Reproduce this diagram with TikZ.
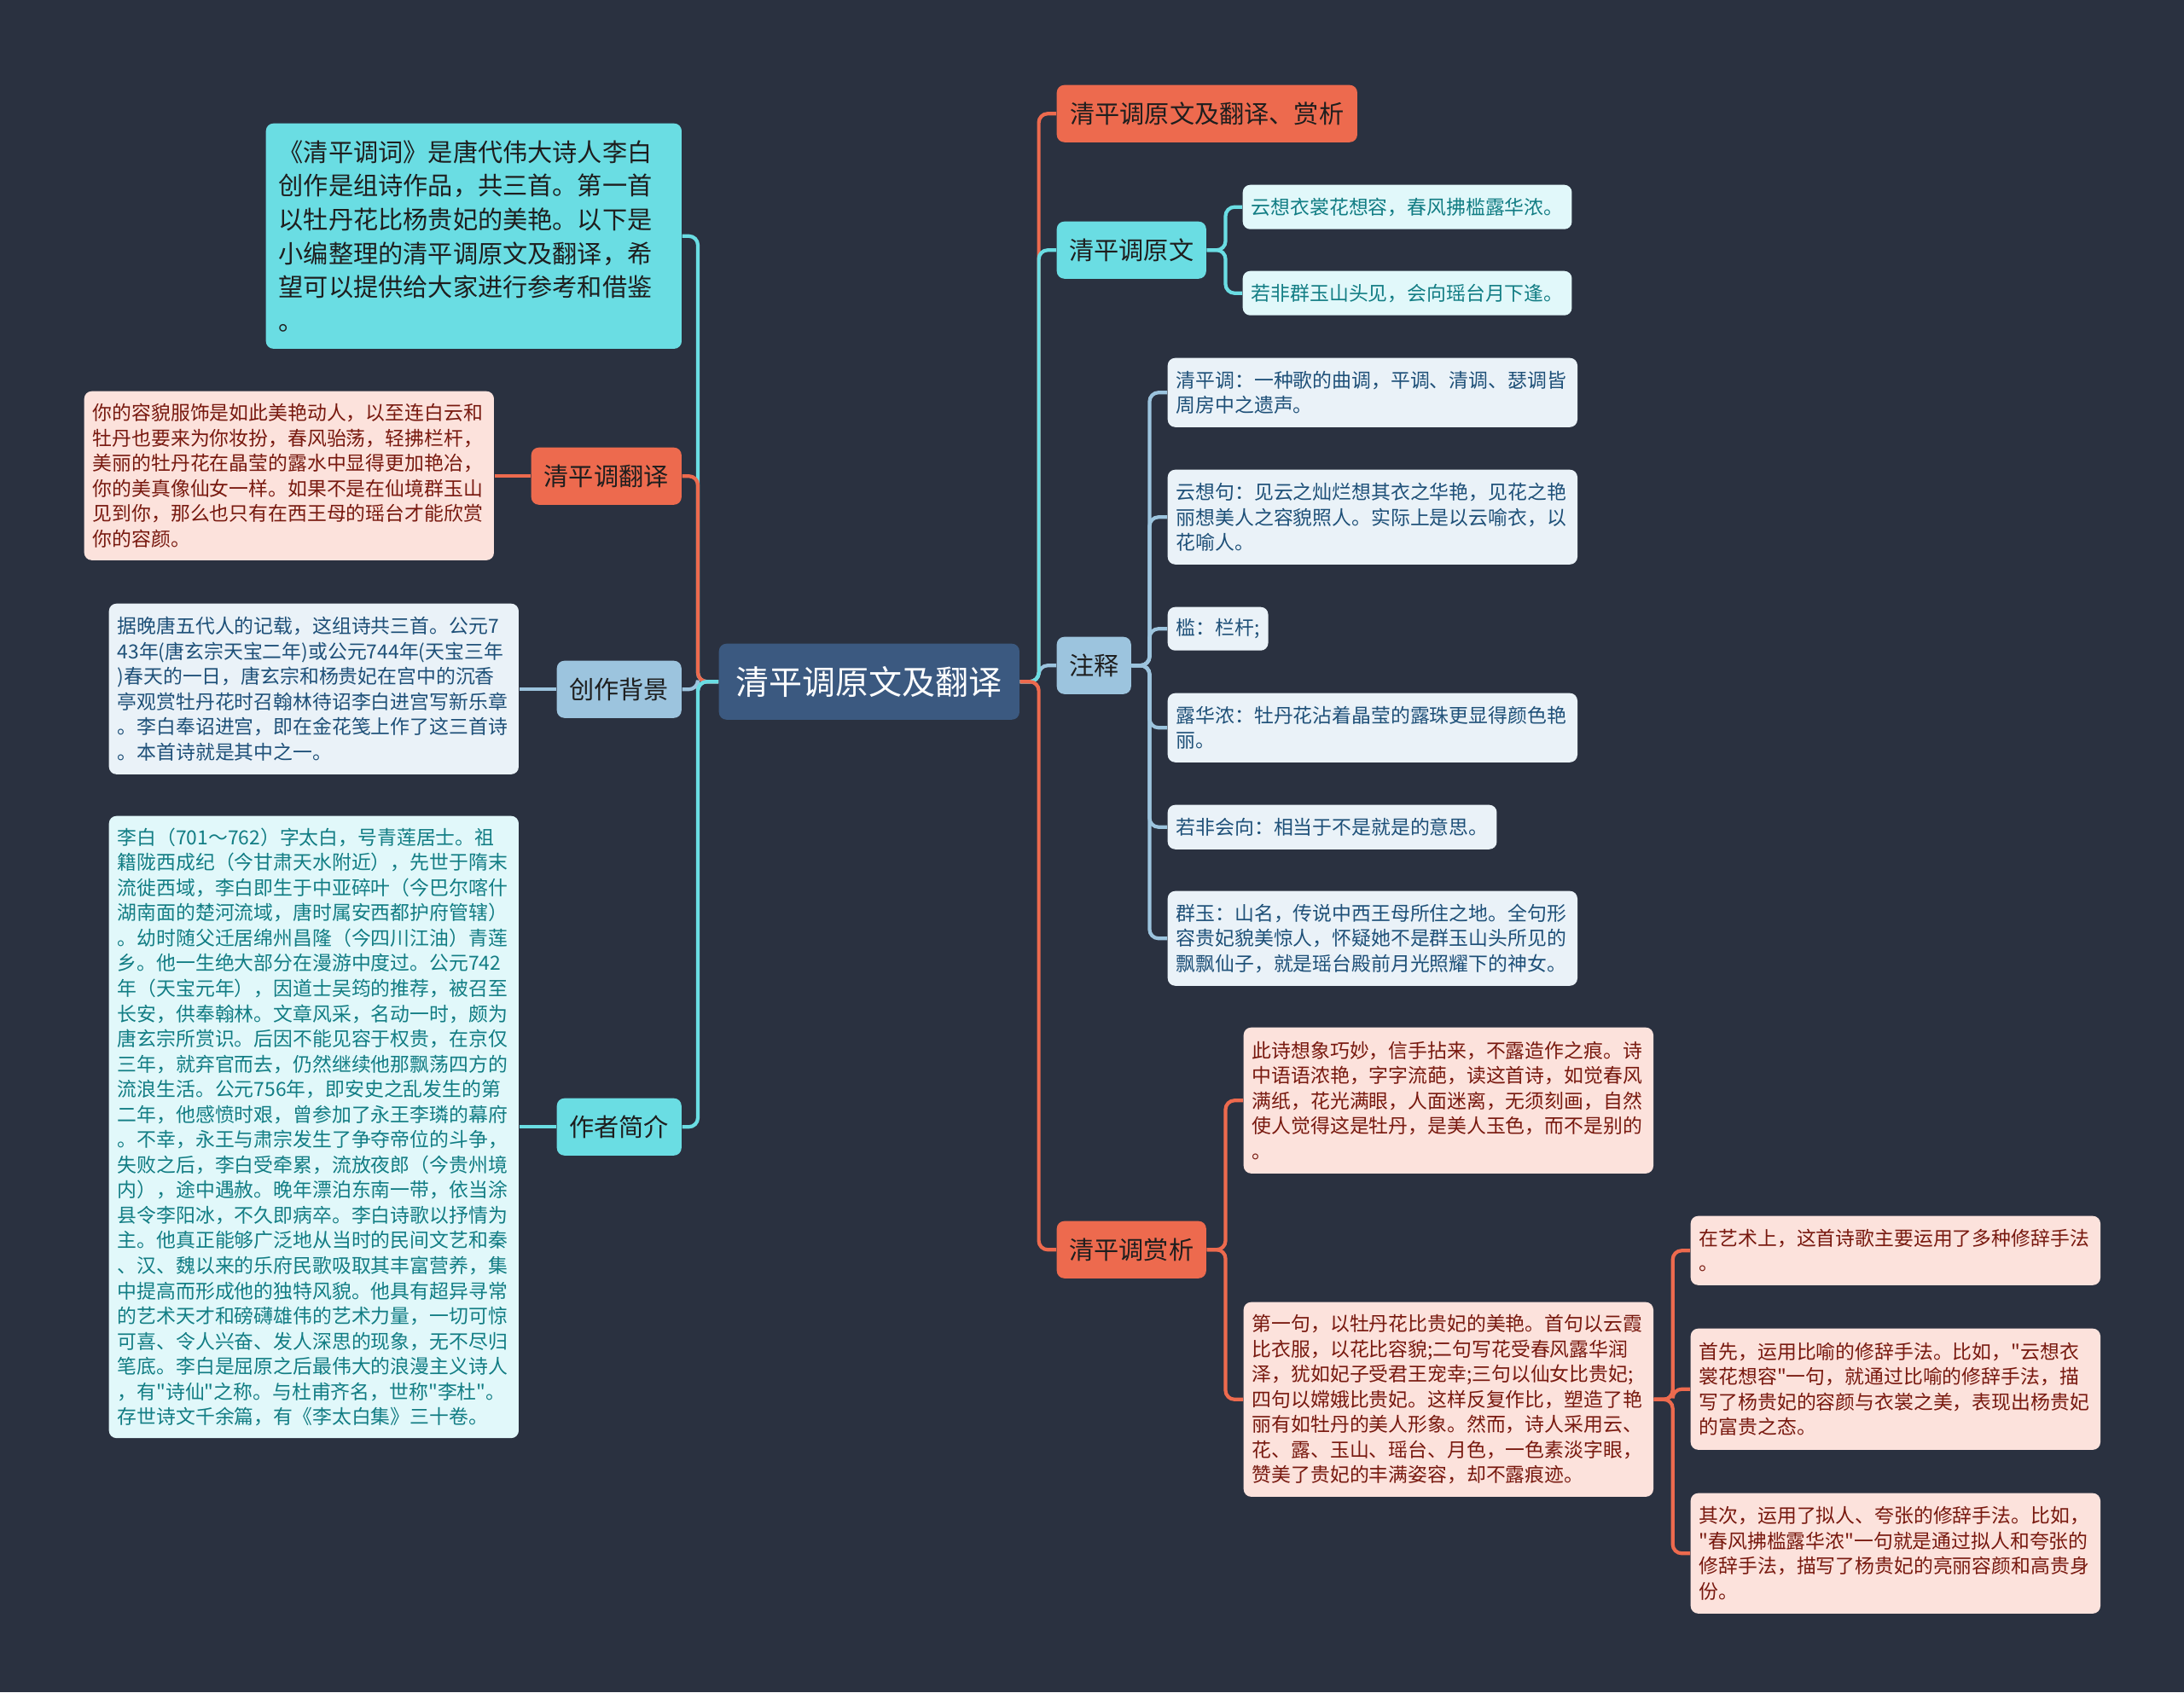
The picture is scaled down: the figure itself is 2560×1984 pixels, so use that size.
\documentclass[tikz,border=0pt]{standalone}
\usepackage{fontspec}
\setmainfont{Noto Sans CJK SC}[Ligatures=TeXOff]
\usepackage{tikz}
\definecolor{bgdark}{RGB}{42,49,64}
\definecolor{rootblue}{RGB}{59,89,128}
\definecolor{hlorange}{RGB}{237,106,78}
\definecolor{hlcyan}{RGB}{106,221,227}
\definecolor{hlblue}{RGB}{156,196,222}
\definecolor{topictext}{RGB}{30,30,30}
\definecolor{leafpink}{RGB}{252,226,220}
\definecolor{leafblue}{RGB}{234,242,248}
\definecolor{leafcyan}{RGB}{225,248,250}
\definecolor{textred}{RGB}{120,25,15}
\definecolor{textblue}{RGB}{30,80,120}
\definecolor{textteal}{RGB}{18,125,132}

\begin{document}
\begin{tikzpicture}[x=0.01cm,y=-0.01cm,
	every node/.style={rounded corners=2.5pt,inner sep=0pt,anchor=north west},
	root/.style={fill=rootblue,text=white,font=\fontsize{11.1}{13}\selectfont},
	topic/.style={fill=#1,text=topictext,font=\fontsize{8.3}{10}\selectfont},
	leaf/.style={align=left,inner xsep=0.1cm,font=\fontsize{6.5}{8.4}\selectfont},
	wide/.style={text width=4.6cm},
	pinkleaf/.style={leaf,fill=leafpink,text=textred},
	blueleaf/.style={leaf,fill=leafblue,text=textblue},
	cyanleaf/.style={leaf,fill=leafcyan,text=textteal},
	conn/.style={draw=#1,line width=1.2pt,rounded corners=3pt},
	]
	\useasboundingbox (0,0) rectangle (2560,1984);
	\fill[bgdark] (0,0) rectangle (2560,1984);

	\node[root,minimum width=3.52cm,minimum height=0.89cm] (root) at (842,754) {清平调原文及翻译};

	\node[topic=hlorange,minimum width=3.52cm,minimum height=0.67cm] (shangxi0) at (1238,99) {清平调原文及翻译、赏析};
	\node[topic=hlcyan,minimum width=1.75cm,minimum height=0.67cm] (yuanwen) at (1238,259) {清平调原文};
	\node[topic=hlblue,minimum width=0.87cm,minimum height=0.67cm] (zhushi) at (1238,746) {注释};
	\node[topic=hlorange,minimum width=1.75cm,minimum height=0.67cm] (shangxi) at (1238,1431) {清平调赏析};

	\node[topic=hlcyan,align=left,text width=4.57cm,inner xsep=0.15cm,minimum height=2.64cm,font=\fontsize{8.3}{11.3}\selectfont] (intro) at (311,144) {《清平调词》是唐代伟大诗人李白\\创作是组诗作品，共三首。第一首\\以牡丹花比杨贵妃的美艳。以下是\\小编整理的清平调原文及翻译，希\\望可以提供给大家进行参考和借鉴\\。};
	\node[topic=hlorange,minimum width=1.76cm,minimum height=0.67cm] (fanyi) at (622,524) {清平调翻译};
	\node[topic=hlblue,minimum width=1.46cm,minimum height=0.67cm] (beijing) at (652,774) {创作背景};
	\node[topic=hlcyan,minimum width=1.46cm,minimum height=0.67cm] (zuozhe) at (652,1287) {作者简介};

	\node[pinkleaf,wide,minimum height=1.98cm] (fanyitext) at (98,458) {你的容貌服饰是如此美艳动人，以至连白云和\\牡丹也要来为你妆扮，春风骀荡，轻拂栏杆，\\美丽的牡丹花在晶莹的露水中显得更加艳冶，\\你的美真像仙女一样。如果不是在仙境群玉山\\见到你，那么也只有在西王母的瑶台才能欣赏\\你的容颜。};
	\node[blueleaf,wide,minimum height=2.0cm] (beijingtext) at (127,707) {据晚唐五代人的记载，这组诗共三首。公元7\\43年(唐玄宗天宝二年)或公元744年(天宝三年\\)春天的一日，唐玄宗和杨贵妃在宫中的沉香\\亭观赏牡丹花时召翰林待诏李白进宫写新乐章\\。李白奉诏进宫，即在金花笺上作了这三首诗\\。本首诗就是其中之一。};
	\node[cyanleaf,wide,minimum height=7.29cm] (zuozhetext) at (127,956) {李白（701～762）字太白，号青莲居士。祖\\籍陇西成纪（今甘肃天水附近），先世于隋末\\流徙西域，李白即生于中亚碎叶（今巴尔喀什\\湖南面的楚河流域，唐时属安西都护府管辖）\\。幼时随父迁居绵州昌隆（今四川江油）青莲\\乡。他一生绝大部分在漫游中度过。公元742\\年（天宝元年），因道士吴筠的推荐，被召至\\长安，供奉翰林。文章风采，名动一时，颇为\\唐玄宗所赏识。后因不能见容于权贵，在京仅\\三年，就弃官而去，仍然继续他那飘荡四方的\\流浪生活。公元756年，即安史之乱发生的第\\二年，他感愤时艰，曾参加了永王李璘的幕府\\。不幸，永王与肃宗发生了争夺帝位的斗争，\\失败之后，李白受牵累，流放夜郎（今贵州境\\内），途中遇赦。晚年漂泊东南一带，依当涂\\县令李阳冰，不久即病卒。李白诗歌以抒情为\\主。他真正能够广泛地从当时的民间文艺和秦\\、汉、魏以来的乐府民歌吸取其丰富营养，集\\中提高而形成他的独特风貌。他具有超异寻常\\的艺术天才和磅礴雄伟的艺术力量，一切可惊\\可喜、令人兴奋、发人深思的现象，无不尽归\\笔底。李白是屈原之后最伟大的浪漫主义诗人\\，有"诗仙"之称。与杜甫齐名，世称"李杜"。\\存世诗文千余篇，有《李太白集》三十卷。};

	\node[cyanleaf,minimum height=0.52cm] (shi1) at (1456,216) {云想衣裳花想容，春风拂槛露华浓。};
	\node[cyanleaf,minimum height=0.52cm] (shi2) at (1456,317) {若非群玉山头见，会向瑶台月下逢。};

	\node[blueleaf,wide,minimum height=0.81cm] (zs1) at (1368,419) {清平调：一种歌的曲调，平调、清调、瑟调皆\\周房中之遗声。};
	\node[blueleaf,wide,minimum height=1.11cm] (zs2) at (1368,550) {云想句：见云之灿烂想其衣之华艳，见花之艳\\丽想美人之容貌照人。实际上是以云喻衣，以\\花喻人。};
	\node[blueleaf,minimum height=0.51cm] (zs3) at (1368,711) {槛：栏杆;};
	\node[blueleaf,wide,minimum height=0.81cm] (zs4) at (1368,812) {露华浓：牡丹花沾着晶莹的露珠更显得颜色艳\\丽。};
	\node[blueleaf,minimum height=0.52cm] (zs5) at (1368,943) {若非会向：相当于不是就是的意思。};
	\node[blueleaf,wide,minimum height=1.11cm] (zs6) at (1368,1044) {群玉：山名，传说中西王母所住之地。全句形\\容贵妃貌美惊人，怀疑她不是群玉山头所见的\\飘飘仙子，就是瑶台殿前月光照耀下的神女。};

	\node[pinkleaf,wide,minimum height=1.71cm] (sx1) at (1457,1204) {此诗想象巧妙，信手拈来，不露造作之痕。诗\\中语语浓艳，字字流葩，读这首诗，如觉春风\\满纸，花光满眼，人面迷离，无须刻画，自然\\使人觉得这是牡丹，是美人玉色，而不是别的\\。};
	\node[pinkleaf,wide,minimum height=2.28cm] (sx2) at (1457,1526) {第一句，以牡丹花比贵妃的美艳。首句以云霞\\比衣服，以花比容貌;二句写花受春风露华润\\泽，犹如妃子受君王宠幸;三句以仙女比贵妃;\\四句以嫦娥比贵妃。这样反复作比，塑造了艳\\丽有如牡丹的美人形象。然而，诗人采用云、\\花、露、玉山、瑶台、月色，一色素淡字眼，\\赞美了贵妃的丰满姿容，却不露痕迹。};
	\node[pinkleaf,wide,minimum height=0.81cm] (xiuci1) at (1981,1425) {在艺术上，这首诗歌主要运用了多种修辞手法\\。};
	\node[pinkleaf,wide,minimum height=1.42cm] (xiuci2) at (1981,1557) {首先，运用比喻的修辞手法。比如，"云想衣\\裳花想容"一句，就通过比喻的修辞手法，描\\写了杨贵妃的容颜与衣裳之美，表现出杨贵妃\\的富贵之态。};
	\node[pinkleaf,wide,minimum height=1.41cm] (xiuci3) at (1981,1750) {其次，运用了拟人、夸张的修辞手法。比如，\\"春风拂槛露华浓"一句就是通过拟人和夸张的\\修辞手法，描写了杨贵妃的亮丽容颜和高贵身\\份。};

	\draw[conn=hlorange] (root.east) -- ++(22,0) |- (shangxi0.west);
	\draw[conn=hlblue] (root.east) -- ++(22,0) |- (zhushi.west);
	\draw[conn=hlcyan] (root.east) -- ++(22,0) |- (yuanwen.west);
	\draw[conn=hlorange] (root.east) -- ++(22,0) |- (shangxi.west);
	\draw[conn=hlcyan] (root.west) -- ++(-24,0) |- (intro.east);
	\draw[conn=hlorange] (root.west) -- ++(-24,0) |- (fanyi.east);
	\draw[conn=hlblue] (root.west) -- ++(-24,0) |- (beijing.east);
	\draw[conn=hlcyan] (root.west) -- ++(-24,0) |- (zuozhe.east);

	\draw[conn=hlorange] (fanyi.west) -- (fanyi.west -| fanyitext.east);
	\draw[conn=hlblue] (beijing.west) -- (beijing.west -| beijingtext.east);
	\draw[conn=hlcyan] (zuozhe.west) -- (zuozhe.west -| zuozhetext.east);

	\draw[conn=hlcyan] (yuanwen.east) -- ++(22,0) |- (shi1.west);
	\draw[conn=hlcyan] (yuanwen.east) -- ++(22,0) |- (shi2.west);
	\foreach \n in {zs1,zs2,zs3,zs4,zs5,zs6}
		\draw[conn=hlblue] (zhushi.east) -- ++(21,0) |- (\n.west);
	\draw[conn=hlorange] (shangxi.east) -- ++(22,0) |- (sx1.west);
	\draw[conn=hlorange] (shangxi.east) -- ++(22,0) |- (sx2.west);
	\foreach \n in {xiuci1,xiuci2,xiuci3}
		\draw[conn=hlorange] (sx2.east) -- ++(22,0) |- (\n.west);
\end{tikzpicture}
\end{document}
